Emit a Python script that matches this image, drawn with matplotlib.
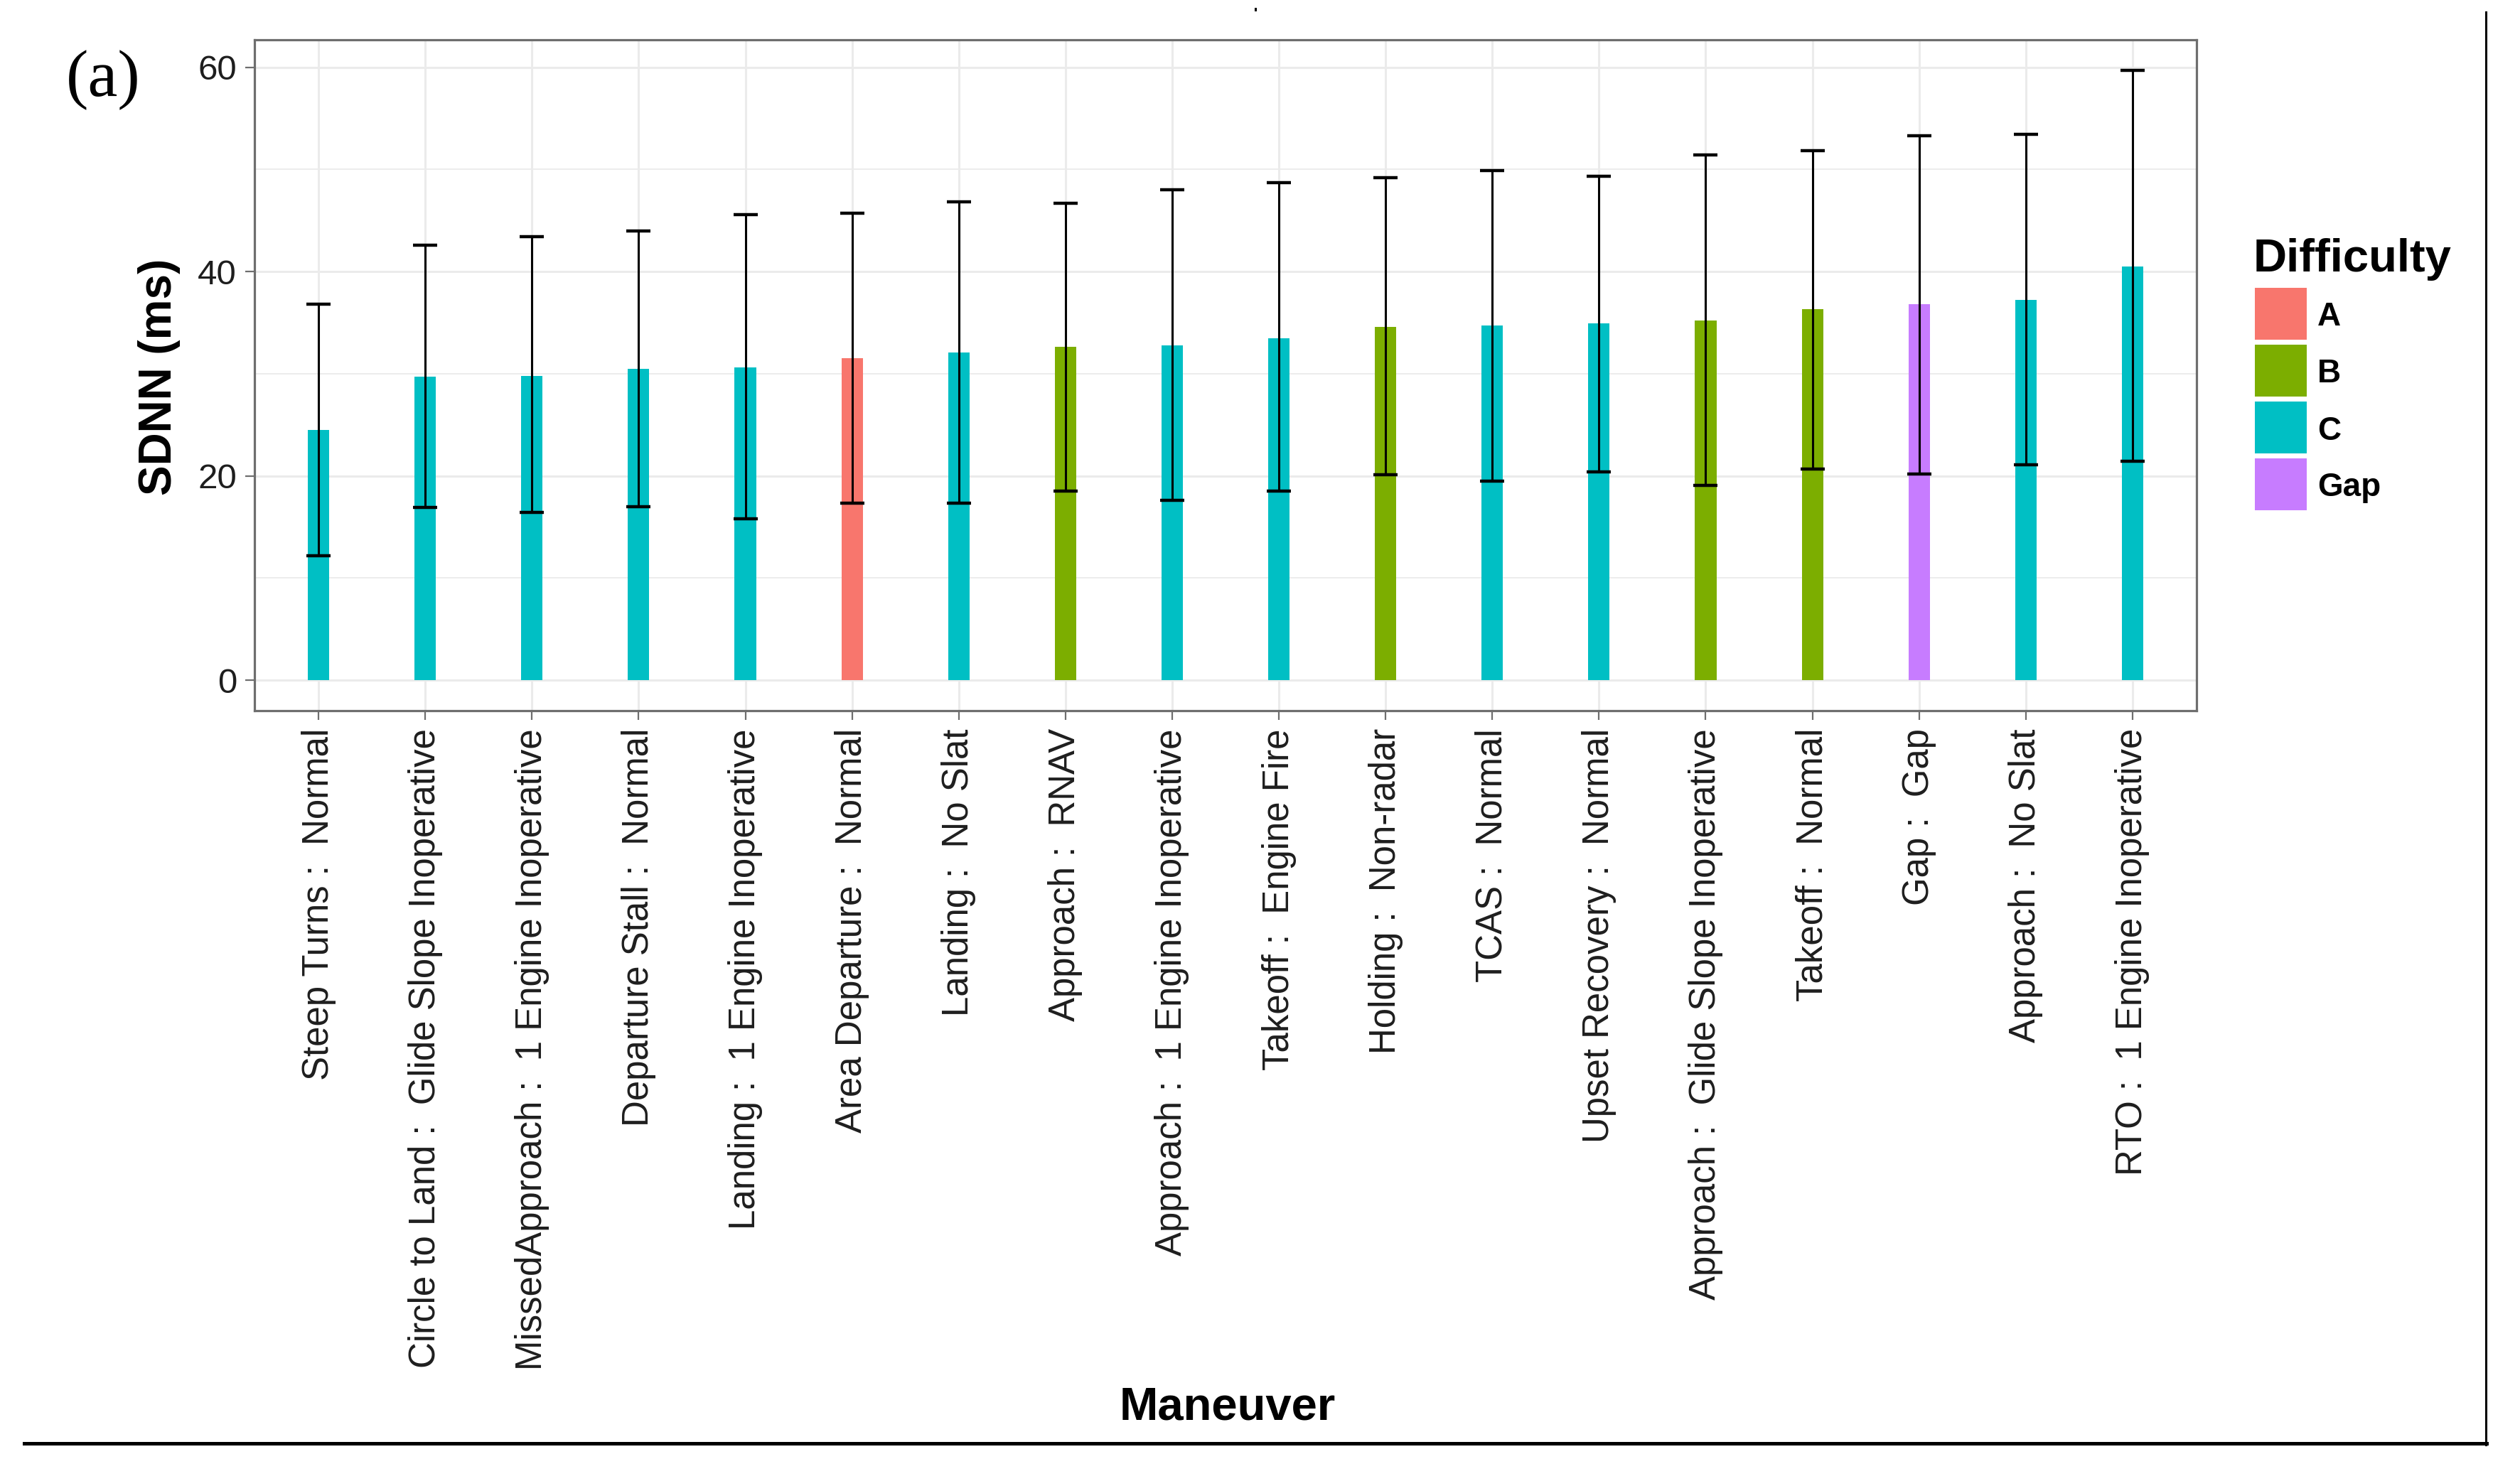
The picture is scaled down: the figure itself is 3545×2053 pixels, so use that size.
import matplotlib
matplotlib.use("Agg")
import matplotlib.pyplot as plt
from matplotlib.lines import Line2D
from matplotlib.patches import Rectangle
import numpy as np

# data
maneuvers = ["Steep Turns :  Normal",
             "Circle to Land :  Glide Slope Inoperative",
             "MissedApproach :  1 Engine Inoperative",
             "Departure Stall :  Normal",
             "Landing :  1 Engine Inoperative",
             "Area Departure :  Normal",
             "Landing :  No Slat",
             "Approach :  RNAV",
             "Approach :  1 Engine Inoperative",
             "Takeoff :  Engine Fire",
             "Holding :  Non-radar",
             "TCAS :  Normal",
             "Upset Recovery :  Normal",
             "Approach :  Glide Slope Inoperative",
             "Takeoff :  Normal",
             "Gap :  Gap",
             "Approach :  No Slat",
             "RTO :  1 Engine Inoperative"]
difficulty = ["C", "C", "C", "C", "C", "A", "C", "B", "C",
              "C", "B", "C", "C", "B", "B", "Gap", "C", "C"]
sdnn_mean = [24.5, 29.7, 29.8, 30.5, 30.6, 31.5, 32.1, 32.6, 32.8,
             33.5, 34.6, 34.7, 34.9, 35.2, 36.3, 36.8, 37.2, 40.5]
sdnn_upper = [36.8, 42.6, 43.4, 44.0, 45.6, 45.7, 46.8, 46.7, 48.0,
              48.7, 49.2, 49.9, 49.3, 51.4, 51.8, 53.3, 53.4, 59.7]
sdnn_lower = [12.2, 16.9, 16.4, 17.0, 15.8, 17.3, 17.3, 18.5, 17.6,
              18.5, 20.1, 19.5, 20.4, 19.1, 20.7, 20.2, 21.1, 21.4]

levels = ["A", "B", "C", "Gap"]
level_colors = {"A": "#F8766D", "B": "#7CAE00", "C": "#00BFC4", "Gap": "#C77CFF"}

W, H = 3545, 2053
plt.rcParams['font.family'] = ['Liberation Sans', 'DejaVu Sans']

fig = plt.figure(figsize=(W / 100, H / 100), dpi=100)

def fx(px):
    return px / W

def fy(py):
    return 1 - py / H

# panel in pixel box: left 358, right 3090, top 56, bottom 1000
ax = fig.add_axes([fx(358), fy(1000), fx(3090 - 358), (1000 - 56) / H])

x = np.arange(1, len(maneuvers) + 1)
mean = np.array(sdnn_mean)
lo = np.array(sdnn_lower)
hi = np.array(sdnn_upper)
cols = [level_colors[d] for d in difficulty]

ax.bar(x, mean, width=0.2, color=cols, zorder=2)
ax.errorbar(x, mean, yerr=[mean - lo, hi - mean], fmt="none", ecolor="black",
            elinewidth=2.2, capsize=12.2, capthick=3.2, zorder=3)

span = hi.max()
ax.set_ylim(-0.05 * span, span * 1.05)
ax.set_xlim(0.4, len(maneuvers) + 0.6)

ax.set_yticks([0, 20, 40, 60])
ax.set_yticks([10, 30, 50], minor=True)
ax.set_xticks(x)
ax.set_xticklabels(maneuvers, rotation=90, fontsize=36.7, color="#1e1e1e", va="top", ha="center")
ax.tick_params(axis="y", which="major", labelsize=35.5, labelcolor="#1e1e1e")
ax.tick_params(which="major", length=9.4, width=1.6, color="#6e6e6e", pad=8.6)
ax.tick_params(which="minor", length=0)

ax.grid(True, which="major", color="#ebebeb", linewidth=2.2, zorder=0)
ax.grid(True, which="minor", axis="y", color="#ebebeb", linewidth=1.3, zorder=0)
ax.set_axisbelow(True)
for s in ax.spines.values():
    s.set_color("#6e6e6e")
    s.set_linewidth(2.3)

# axis titles
fig.text(fx(224), fy(530), "SDNN (ms)", rotation=90, ha="center", va="center",
         fontsize=46, fontweight="bold")
fig.text(fx(1727), fy(1997), "Maneuver", ha="center", va="baseline",
         fontsize=47, fontweight="bold")

# panel tag
fig.text(fx(93), fy(135), "(a)", ha="left", va="baseline", fontsize=68,
         family=["Liberation Serif", "DejaVu Serif"])

# legend
fig.text(fx(3170), fy(382), "Difficulty", ha="left", va="baseline",
         fontsize=47, fontweight="bold")
for i, lev in enumerate(levels):
    top = 405 + i * 80
    fig.add_artist(Rectangle((fx(3172), fy(top + 73)), fx(73), 73 / H,
                             transform=fig.transFigure, facecolor=level_colors[lev],
                             edgecolor="none"))
    fig.text(fx(3260), fy(top + 36.5 + 17), lev, ha="left", va="baseline",
             fontsize=33, fontweight="bold")

# page border lines
fig.add_artist(Line2D([fx(34), fx(3498)], [fy(2031), fy(2031)], color="black",
                      linewidth=3.6, transform=fig.transFigure))
fig.add_artist(Line2D([fx(3497), fx(3497)], [fy(17), fy(2033)], color="black",
                      linewidth=2.2, transform=fig.transFigure))
fig.add_artist(Rectangle((fx(1765), fy(16)), fx(3), 5 / H, transform=fig.transFigure,
                         facecolor="black", edgecolor="none"))

fig.savefig("out.png", dpi=100, facecolor="white")
